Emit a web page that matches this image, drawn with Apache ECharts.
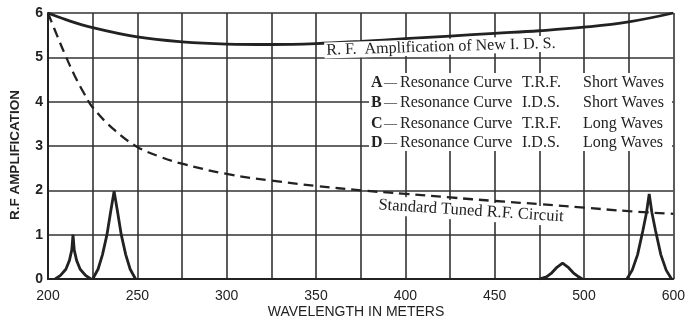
<!DOCTYPE html>
<html>
<head>
<meta charset="utf-8">
<script src="https://cdn.jsdelivr.net/npm/echarts@6/dist/echarts.min.js"></script>
<style>
  html, body { margin: 0; padding: 0; background: #fff; }
  #chart { width: 688px; height: 325px; }
</style>
</head>
<body>
<div id="chart"></div>
<script>
// x axis is drawn 200..550 in steps of 25; the last printed label reads "600"
var xTickValues = [200, 250, 300, 350, 400, 450, 500, 550];
var xTickLabels = ['200', '250', '300', '350', '400', '450', '500', '600'];
var yTicks = [0, 1, 2, 3, 4, 5, 6];

// R.F. amplification of new I.D.S. (solid)
var idsX = [200, 210, 225, 250, 275, 300, 325, 350, 375, 400, 425, 450, 475, 500, 525, 550];
var idsGain = [6.0, 5.85, 5.67, 5.46, 5.35, 5.3, 5.29, 5.31, 5.36, 5.42, 5.48, 5.54, 5.6, 5.68, 5.8, 6.0];

// standard tuned R.F. circuit (dashed)
var stdX = [200, 205, 210, 215, 220, 225, 237.5, 250, 262.5, 275, 300, 325, 350, 375, 400, 425, 450, 475, 500, 525, 550];
var stdGain = [6.0, 5.5, 5.02, 4.58, 4.2, 3.87, 3.35, 2.98, 2.76, 2.6, 2.37, 2.22, 2.1, 2.0, 1.92, 1.84, 1.76, 1.69, 1.61, 1.53, 1.47];

// resonance curves
var peakAX = [204, 207, 210, 212, 213.3, 214, 214.7, 216, 218, 221, 224];
var peakAY = [0, 0.08, 0.22, 0.42, 0.65, 1.0, 0.65, 0.42, 0.22, 0.08, 0];
var peakBX = [225, 228, 230.5, 233, 235, 237, 239, 241, 243.5, 246, 249];
var peakBY = [0, 0.22, 0.55, 1.0, 1.5, 1.98, 1.5, 1.0, 0.55, 0.22, 0];
var peakCX = [475, 479, 482, 485, 488, 491, 494, 497, 499];
var peakCY = [0, 0.05, 0.14, 0.27, 0.36, 0.27, 0.14, 0.05, 0];
var peakDX = [524, 527, 530, 533, 535, 536.5, 538, 540, 543, 546, 549];
var peakDY = [0, 0.2, 0.55, 1.1, 1.5, 1.92, 1.5, 1.1, 0.55, 0.2, 0];
var peakNames = ['A', 'B', 'C', 'D'];

var legendLetters = ['A', 'B', 'C', 'D'];
var legendCircuit = ['T.R.F.', 'I.D.S.', 'T.R.F.', 'I.D.S.'];
var legendBand = ['Short Waves', 'Short Waves', 'Long Waves', 'Long Waves'];

var SERIF = '"Liberation Serif", "DejaVu Serif", serif';
var SANS = '"Liberation Sans", Arial, sans-serif';
var INK = '#222';

function pairs(xs, ys) {
    return xs.map(function (x, i) { return [x, ys[i]]; });
}

function peakSeries(xs, ys, name) {
    var top = ys.indexOf(Math.max.apply(null, ys));
    var data = pairs(xs, ys).map(function (p, i) {
        if (i !== top) return p;
        return {
            value: p,
            label: {
                show: true, position: 'top', distance: 4, formatter: name,
                fontFamily: SERIF, fontWeight: 'bold', fontSize: 14, color: INK
            }
        };
    });
    return {
        type: 'line', name: name, data: data, symbol: 'none',
        lineStyle: { color: INK, width: 2.8 }, z: 4
    };
}

var chart = echarts.init(document.getElementById('chart'), null, { renderer: 'canvas' });

var graphics = [
    {
        type: 'text', x: 15, y: 155, rotation: Math.PI / 2,
        style: { text: 'R.F AMPLIFICATION', fontFamily: SANS, fontSize: 13.5, fontWeight: 'bold',
                 fill: INK, align: 'center', verticalAlign: 'middle' }
    },
    {
        type: 'text', x: 356, y: 312,
        style: { text: 'WAVELENGTH IN METERS', fontFamily: SANS, fontSize: 14, fill: INK,
                 align: 'center', verticalAlign: 'middle' }
    },
    {
        type: 'text', x: 441, y: 47, rotation: 0.03, z: 10,
        style: { text: 'R. F.  Amplification of New I. D. S.', fontFamily: SERIF, fontSize: 16,
                 fill: INK, align: 'center', verticalAlign: 'middle',
                 backgroundColor: '#fff', padding: [0, 2] }
    },
    {
        type: 'text', x: 471, y: 211, rotation: -0.065, z: 10,
        style: { text: 'Standard Tuned R.F. Circuit', fontFamily: SERIF, fontSize: 16.5,
                 fill: INK, align: 'center', verticalAlign: 'middle',
                 backgroundColor: '#fff', padding: [1, 2] }
    },
    // white panel behind the key, so the grid only shows around it
    {
        type: 'rect', z: 9,
        shape: { x: 369, y: 73, width: 303, height: 78 },
        style: { fill: '#fff' }
    }
];

var rowY = [83, 103, 124, 143];
legendLetters.forEach(function (l, i) {
    var base = { fontFamily: SERIF, fontSize: 16, fill: INK, verticalAlign: 'middle' };
    graphics.push({ type: 'text', x: 371, y: rowY[i], z: 10,
        style: Object.assign({}, base, { text: l, fontWeight: 'bold' }) });
    graphics.push({ type: 'text', x: 384, y: rowY[i], z: 10,
        style: Object.assign({}, base, { text: '\u2014', fontSize: 13 }) });
    graphics.push({ type: 'text', x: 400, y: rowY[i], z: 10,
        style: Object.assign({}, base, { text: 'Resonance Curve' }) });
    graphics.push({ type: 'text', x: 522, y: rowY[i], z: 10,
        style: Object.assign({}, base, { text: legendCircuit[i] }) });
    graphics.push({ type: 'text', x: 583, y: rowY[i], z: 10,
        style: Object.assign({}, base, { text: legendBand[i] }) });
});

chart.setOption({
    backgroundColor: '#fff',
    animation: false,
    grid: { left: 48, right: 8, top: 13, bottom: 46 },
    xAxis: {
        type: 'value', min: 200, max: 550, interval: 25,
        axisLine: { show: true, lineStyle: { color: INK, width: 2 } },
        axisTick: { show: false },
        splitLine: { show: true, lineStyle: { color: '#333', width: 1.6 } },
        axisLabel: {
            margin: 10, fontFamily: SANS, fontSize: 14, color: INK,
            formatter: function (v) {
                var k = xTickValues.indexOf(v);
                return k < 0 ? '' : xTickLabels[k];
            }
        }
    },
    yAxis: {
        type: 'value', min: yTicks[0], max: yTicks[yTicks.length - 1], interval: 1,
        axisLine: { show: true, lineStyle: { color: INK, width: 2 } },
        axisTick: { show: false },
        splitLine: { show: true, lineStyle: { color: '#333', width: 1.6 } },
        axisLabel: { margin: 5, fontFamily: SANS, fontSize: 14, fontWeight: 'bold', color: INK }
    },
    graphic: graphics,
    series: [
        {
            type: 'line', name: 'R.F. Amplification of New I.D.S.', data: pairs(idsX, idsGain),
            symbol: 'none', smooth: 0.4, lineStyle: { color: INK, width: 2.8 }, z: 4
        },
        {
            type: 'line', name: 'Standard Tuned R.F. Circuit', data: pairs(stdX, stdGain),
            symbol: 'none', smooth: 0.4, lineStyle: { color: INK, width: 2.3, type: [10, 6] }, z: 4
        },
        peakSeries(peakAX, peakAY, peakNames[0]),
        peakSeries(peakBX, peakBY, peakNames[1]),
        peakSeries(peakCX, peakCY, peakNames[2]),
        peakSeries(peakDX, peakDY, peakNames[3])
    ]
});
</script>
</body>
</html>
